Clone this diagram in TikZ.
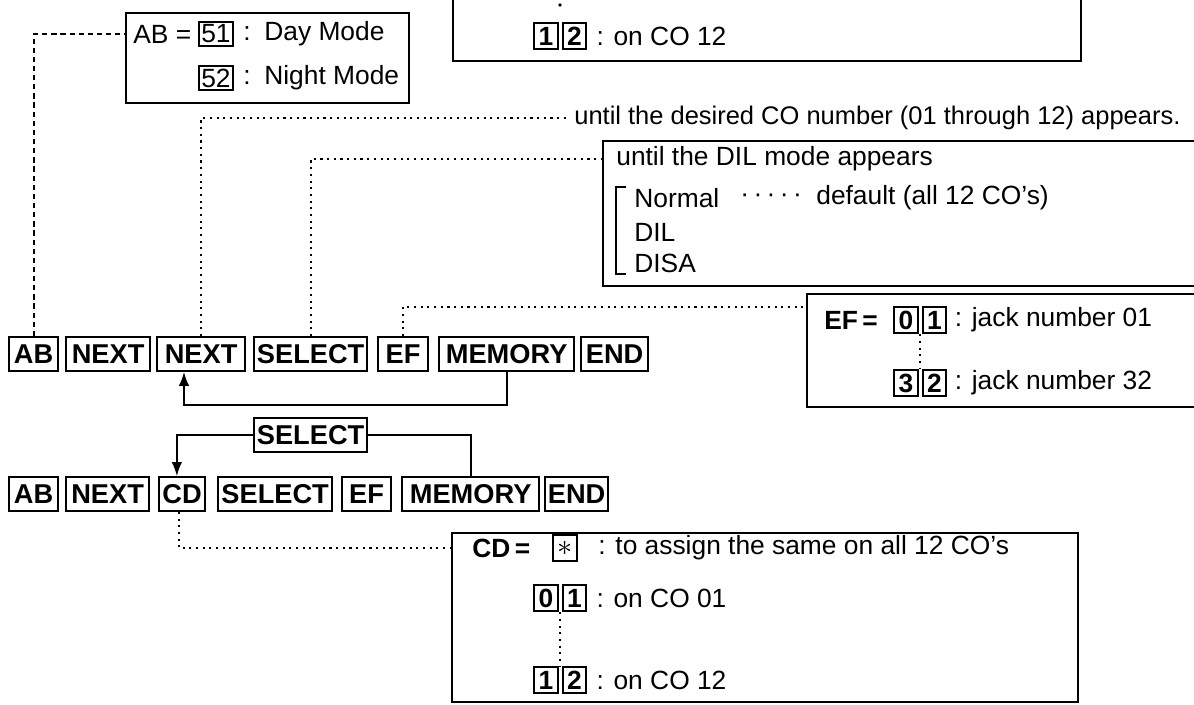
\documentclass[tikz,border=0pt]{standalone}
\usepackage{fontspec}
\setmainfont{Liberation Sans}
\usetikzlibrary{positioning,arrows.meta}

\tikzset{
  key/.style={draw, line width=1.3pt, font=\bfseries\fontsize{15.5}{16}\selectfont,
    inner xsep=1pt, inner ysep=0pt, minimum height=19pt, anchor=west},
  dgt/.style={draw, line width=1.2pt, font=\bfseries\fontsize{15}{15}\selectfont,
    inner sep=0pt, minimum width=13.5pt, minimum height=15pt},
  numb/.style={draw, line width=1pt, inner sep=1.5pt, minimum height=13.5pt,
    font=\fontsize{15}{15}\selectfont},
  frame/.style={draw, line width=1.1pt, anchor=north west, inner sep=0pt},
  txt/.style={font=\fontsize{15}{18}\selectfont, inner sep=0pt, anchor=west},
  btxt/.style={txt, font=\bfseries\fontsize{15}{18}\selectfont},
  dots/.style={line width=1.2pt, dash pattern=on 1.2pt off 2.6pt},
  flow/.style={line width=1.1pt},
}

\begin{document}
\begin{tikzpicture}[x=0.02cm, y=-0.02cm]
  \useasboundingbox (0,0) rectangle (1194,704);

  % frames (some run off the page)
  \node[frame, minimum width=12.56cm, minimum height=1.6cm] (topbox) at (452,-20) {};
  \node[frame, minimum width=5.66cm, minimum height=1.8cm] (abbox) at (125,12) {};
  \node[frame, minimum width=14cm, minimum height=2.9cm] (dilbox) at (602,140) {};
  \node[frame, minimum width=10cm, minimum height=2.26cm] (efbox) at (806,293) {};
  \node[frame, minimum width=12.52cm, minimum height=3.38cm] (cdbox) at (451,532) {};

  % top box: last line only
  \node[dgt] (t1) at (546,36) {1};
  \node[dgt, right=1.5pt of t1] (t2) {2};
  \node[txt, right=5pt of t2] (tco) {: on CO 12};
  \coordinate (tdot) at (560,5);
  \fill (tdot) circle (1.1pt);

  % AB = 51 / 52
  \node[txt] (abeq) at (133,34) {AB =};
  \node[numb] (n51) at (216,34) {51};
  \node[txt] (abc1) at (243,34) {:};
  \node[txt] (abday) at (264,34) {Day Mode};
  \node[numb] (n52) at (216,78) {52};
  \node[txt] (abc2) at (243,78) {:};
  \node[txt] (abnight) at (264,78) {Night Mode};

  % CO number note
  \node[txt, font=\fontsize{14.5}{18}\selectfont] (untiltxt) at (574,118)
    {until the desired CO number (01 through 12) appears.};

  % DIL mode box
  \node[txt] (dilhead) at (616,159) {until the DIL mode appears};
  \node[txt] (dnorm) at (634,198) {Normal};
  \node[txt] (ddots) at (740,198) {·\,·\,·\,·\,·};
  \node[txt] (ddef) at (816,198) {default (all 12 CO’s)};
  \node[txt] (ddil) at (634,232) {DIL};
  \node[txt] (ddisa) at (634,263) {DISA};
  \draw[line width=1pt] (626,187) -- (616,187) -- (616,274) -- (626,274);

  % EF box
  \node[btxt] (efeq) at (824,320) {EF\,=};
  \node[dgt] (e0) at (906,320) {0};
  \node[dgt, right=1.5pt of e0] (e1) {1};
  \node[txt, right=4pt of e1] (ef01) {: jack number 01};
  \node[dgt] (e3) at (906,383) {3};
  \node[dgt, right=1.5pt of e3] (e2) {2};
  \node[txt, right=4pt of e2] (ef32) {: jack number 32};
  \draw[dots] ([xshift=-0.8pt]e1.south west) -- ([xshift=-0.8pt]e2.north west);

  % first key sequence
  \foreach \n/\t/\x/\w in {k1ab/AB/8/49, k1nx/NEXT/65/84, k1nx2/NEXT/156/88,
      k1sel/SELECT/253/113, k1ef/EF/377/50, k1mem/MEMORY/438/135, k1end/END/580/67}
    \node[key, minimum width=\w*0.02cm] (\n) at (\x,354) {\t};

  % second key sequence
  \node[key, minimum width=2.26cm] (fsel) at (253,435) {SELECT};
  \foreach \n/\t/\x/\w in {k2ab/AB/8/49, k2nx/NEXT/65/83, k2cd/CD/158/46,
      k2sel/SELECT/217/114, k2ef/EF/341/49, k2mem/MEMORY/401/137, k2end/END/544/63}
    \node[key, minimum width=\w*0.02cm] (\n) at (\x,494) {\t};

  % CD box
  \node[btxt] (cdeq) at (472,548) {CD\,=};
  \node[dgt, font=\fontsize{16}{16}\selectfont] (star) at (565,548) {$\ast$};
  \node[txt] (cdall) at (598,548) {: to assign the same on all 12 CO’s};
  \node[dgt] (c0) at (546,598) {0};
  \node[dgt, right=1.5pt of c0] (c1) {1};
  \node[txt, right=5pt of c1] (co01) {: on CO 01};
  \node[dgt] (c1b) at (546,680) {1};
  \node[dgt, right=1.5pt of c1b] (c2b) {2};
  \node[txt, right=5pt of c2b] (co12) {: on CO 12};
  \draw[dots] ([xshift=-0.8pt]c1.south west) -- ([xshift=-0.8pt]c2b.north west);

  % connectors
  \coordinate (efin) at (806,307);
  \coordinate (retl) at (184,405);
  \draw[line width=1.1pt, dash pattern=on 3pt off 2.2pt] (k1ab.north) |- (abbox.west |- abeq.west);
  \draw[dots] (k1nx2.north) |- ([xshift=-4pt]untiltxt.west);
  \draw[dots] (k1sel.north) |- (dilbox.west |- dilhead.west);
  \draw[dots] (k1ef.north) |- (efin);
  \draw[flow, -{Latex[length=8pt,width=6pt]}] (k1mem.south) |- (retl) -- (retl |- k1nx2.south);
  \draw[flow, -{Latex[length=8pt,width=6pt]}] (fsel.west) -| ([xshift=-3pt]k2cd.north);
  \draw[flow] (fsel.east) -| (k2mem.north);
  \draw[dots] ([xshift=-2pt]k2cd.south) |- (cdbox.west |- cdeq.west);
\end{tikzpicture}
\end{document}
